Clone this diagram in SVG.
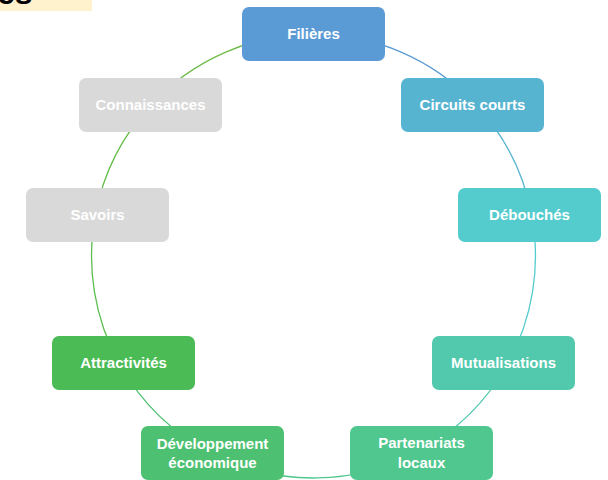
<svg xmlns="http://www.w3.org/2000/svg" width="608" height="480" viewBox="0 0 608 480">
<style>
.n text{font-family:"Liberation Sans",Arial,sans-serif;font-weight:bold;font-size:15px;fill:#ffffff;text-anchor:middle}
.c path{fill:none;stroke-width:1.3}
</style>
<rect width="608" height="480" fill="#ffffff"/>
<g id="title">
<rect x="0" y="0" width="92" height="11" fill="#FFF2CC"/>
<text x="-3" y="4" font-family="Liberation Sans,Arial,sans-serif" font-weight="bold" font-size="32" fill="#000000">es</text>
</g>
<g class="c" id="connectors">
<path d="M313.5,34 A222,222 0 0 1 474.5,103.2" stroke="#5B9BD5"/>
<path d="M474.5,103.2 A222,222 0 0 1 531.6,214.8" stroke="#57B4D1"/>
<path d="M531.6,214.8 A222,222 0 0 1 506.9,365" stroke="#54CBCD"/>
<path d="M506.9,365 A222,222 0 0 1 420.1,450.7" stroke="#52C9AD"/>
<path d="M420.1,450.7 A222,222 0 0 1 212.3,453.6" stroke="#50C78E"/>
<path d="M212.3,453.6 A222,222 0 0 1 120.1,365" stroke="#4DC171"/>
<path d="M120.1,365 A222,222 0 0 1 95.4,214.8" stroke="#5CBE4F"/>
<path d="M95.4,214.8 A222,222 0 0 1 150.6,105.2" stroke="#66BD4A"/>
<path d="M150.6,105.2 A222,222 0 0 1 313.5,34" stroke="#6DBB48"/>
</g>
<g class="n" id="n-filieres"><rect x="242" y="7" width="143" height="54" rx="7" fill="#5B9BD5"/><text x="313.5" y="39">Filières</text></g>
<g class="n" id="n-circuits"><rect x="401" y="78" width="143" height="54" rx="7" fill="#57B4D1"/><text x="472.5" y="110">Circuits courts</text></g>
<g class="n" id="n-debouches"><rect x="458" y="188" width="143" height="54" rx="7" fill="#54CBCD"/><text x="529.5" y="220">Débouchés</text></g>
<g class="n" id="n-mutualisations"><rect x="432" y="336" width="143" height="54" rx="7" fill="#52C9AD"/><text x="503.5" y="368">Mutualisations</text></g>
<g class="n" id="n-partenariats"><rect x="350" y="426" width="143" height="54" rx="7" fill="#50C78E"/><text x="421.5" y="448">Partenariats</text><text x="421.5" y="468">locaux</text></g>
<g class="n" id="n-developpement"><rect x="141" y="426" width="143" height="54" rx="7" fill="#4DC171"/><text x="212.5" y="449">Développement</text><text x="212.5" y="468">économique</text></g>
<g class="n" id="n-attractivites"><rect x="52" y="336" width="143" height="54" rx="7" fill="#4BBB55"/><text x="123.5" y="368">Attractivités</text></g>
<g class="n" id="n-savoirs"><rect x="26" y="188" width="143" height="54" rx="7" fill="#D9D9D9"/><text x="97.5" y="220">Savoirs</text></g>
<g class="n" id="n-connaissances"><rect x="79" y="78" width="143" height="54" rx="7" fill="#D9D9D9"/><text x="150.5" y="110">Connaissances</text></g>
</svg>
